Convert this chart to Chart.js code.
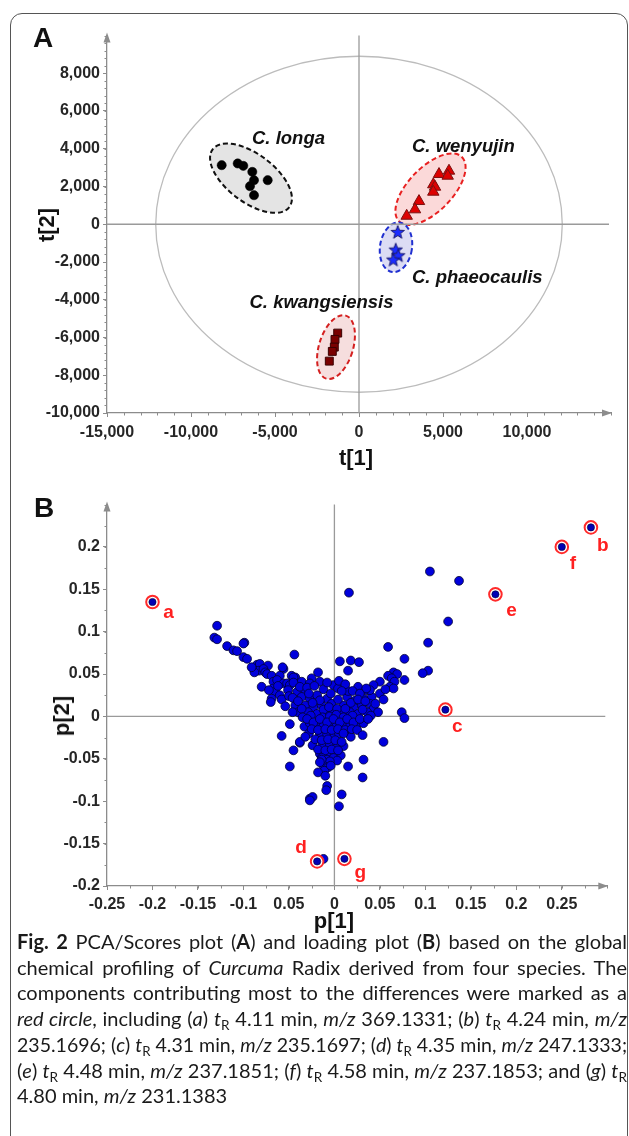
<!DOCTYPE html>
<html><head><meta charset="utf-8">
<script src="https://cdn.jsdelivr.net/npm/chart.js@4.4.1/dist/chart.umd.min.js"></script>
<style>
html,body{margin:0;padding:0;background:#fff;width:629px;height:1136px;overflow:hidden;position:relative;}
#frame{position:absolute;left:10px;top:13px;width:618px;height:1140px;box-sizing:border-box;border:1.6px solid #555;border-radius:12px;}
canvas{position:absolute;left:0;}
#cA{top:0;}
#cB{top:480px;}
.lbl{position:absolute;font-family:'Liberation Sans',Arial,sans-serif;font-weight:bold;color:#111;white-space:nowrap;}
.panel{font-size:28px;line-height:28px;}
.atitle{font-size:22px;line-height:22px;}
#cap{position:absolute;left:17px;top:929px;width:610px;font-family:Lato,'Noto Sans',sans-serif;font-size:20px;line-height:25.7px;color:#1a1a1a;}
.ln{display:block;width:max-content;white-space:nowrap;transform-origin:left center;}
sub{font-size:0.68em;vertical-align:-0.3em;line-height:0;font-style:normal;}
</style></head>
<body>
<div id="frame"></div>
<canvas id="cA" width="629" height="473"></canvas>
<canvas id="cB" width="629" height="446"></canvas>
<div class="lbl panel" style="left:33px;top:24px;">A</div>
<div class="lbl panel" style="left:34px;top:494px;">B</div>
<div class="lbl atitle" style="left:356px;top:458px;transform:translate(-50%,-50%);">t[1]</div>
<div class="lbl atitle" style="left:47px;top:225px;transform:translate(-50%,-50%) rotate(-90deg);">t[2]</div>
<div class="lbl atitle" style="left:334px;top:921px;transform:translate(-50%,-50%);">p[1]</div>
<div class="lbl atitle" style="left:62px;top:716px;transform:translate(-50%,-50%) rotate(-90deg);">p[2]</div>
<div id="cap">
<span class="ln"><b>Fig. 2</b>  PCA/Scores plot (<b>A</b>) and loading plot (<b>B</b>) based on the global</span>
<span class="ln">chemical profiling of <i>Curcuma</i> Radix derived from four species. The</span>
<span class="ln">components contributing most to the differences were marked as a</span>
<span class="ln"><i>red circle</i>, including (<i>a</i>) <i>t</i><sub>R</sub> 4.11 min, <i>m/z</i> 369.1331; (<i>b</i>) <i>t</i><sub>R</sub> 4.24 min, <i>m/z</i></span>
<span class="ln">235.1696; (<i>c</i>) <i>t</i><sub>R</sub> 4.31 min, <i>m/z</i> 235.1697; (<i>d</i>) <i>t</i><sub>R</sub> 4.35 min, <i>m/z</i> 247.1333;</span>
<span class="ln">(<i>e</i>) <i>t</i><sub>R</sub> 4.48 min, <i>m/z</i> 237.1851; (<i>f</i>) <i>t</i><sub>R</sub> 4.58 min, <i>m/z</i> 237.1853; and (<i>g</i>) <i>t</i><sub>R</sub></span>
<span class="ln last">4.80 min, <i>m/z</i> 231.1383</span>
</div>
<script>
// ---------- DATA: Panel A (PCA scores) ----------
const longaX = [-8173, -7220, -6887, -6351, -6250, -6488, -6250, -5435];
const longaY = [3130, 3220, 3093, 2775, 2334, 2016, 1538, 2334];
const wenyujinX = [5357, 4762, 5280, 4423, 4524, 4423, 3571, 3333, 2839];
const wenyujinY = [2828, 2653, 2562, 2106, 1979, 1714, 1220, 780, 440];
const phaeocaulisX = [2304, 2185, 2339, 2042];
const phaeocaulisY = [-408, -1342, -1645, -1873];
const kwangsiensisX = [-1268, -1429, -1470, -1589, -1768];
const kwangsiensisY = [-5767, -6101, -6509, -6737, -7252];
const speciesNames = ['C. longa', 'C. wenyujin', 'C. phaeocaulis', 'C. kwangsiensis'];
const t1TickLabels = ['-15,000', '-10,000', '-5,000', '0', '5,000', '10,000', ''];
const t2TickLabels = ['-10,000', '-8,000', '-6,000', '-4,000', '-2,000', '0', '2,000', '4,000', '6,000', '8,000', ''];

// ---------- DATA: Panel B (PCA loadings) ----------
const loadingsLeftArm = [
 [-0.129,0.107],[-0.132,0.093],[-0.129,0.091],[-0.118,0.083],[-0.111,0.078],[-0.107,0.077],[-0.099,0.087],[-0.100,0.086],
 [-0.100,0.070],[-0.096,0.068],[-0.085,0.061],[-0.082,0.062],[-0.083,0.054],[-0.073,0.060],[-0.078,0.056],[-0.044,0.073],
 [-0.056,0.056],[-0.057,0.058],[-0.076,0.052],[-0.074,0.050],[-0.069,0.048],[-0.060,0.048],[-0.047,0.048],[-0.043,0.046],
 [-0.045,0.046],[-0.018,0.052],[-0.025,0.045],[-0.067,0.041],[-0.063,0.043],[-0.056,0.039],[-0.052,0.039],[-0.049,0.037],
 [-0.036,0.041],[-0.027,0.039],[-0.016,0.041],[-0.080,0.035],[-0.067,0.033],[-0.065,0.029],[-0.051,0.031],[-0.041,0.029],
 [-0.032,0.031],[-0.012,0.032],[-0.001,0.037],[-0.069,0.021],[-0.070,0.017],[-0.060,0.025],[-0.036,0.023],[-0.027,0.021],
 [-0.019,0.025],[-0.008,0.021],[-0.043,0.013],[-0.032,0.013],[-0.023,0.011],[-0.014,0.013],[-0.003,0.015],[-0.040,0.005],
 [-0.029,0.005],[-0.019,0.003],[-0.010,0.005],[-0.001,0.005],[-0.072,0.031],[-0.058,0.020],[-0.054,0.012],[-0.062,0.036],
 [-0.088,0.052],[-0.091,0.058],[-0.050,0.024],[-0.046,0.005]
];
const loadingsRightArm = [
 [0.105,0.171],[0.137,0.160],[0.016,0.146],[0.125,0.112],[0.103,0.087],[0.059,0.082],[0.077,0.068],[0.006,0.065],
 [0.018,0.066],[0.027,0.064],[0.015,0.054],[0.103,0.054],[0.097,0.051],[0.077,0.043],[0.065,0.052],[0.059,0.048],
 [0.069,0.050],[0.063,0.045],[0.066,0.041],[0.061,0.035],[0.065,0.033],[0.050,0.041],[0.043,0.037],[0.036,0.031],
 [0.026,0.035],[0.050,0.027],[0.041,0.023],[0.032,0.021],[0.023,0.019],[0.014,0.023],[0.039,0.015],[0.030,0.013],
 [0.021,0.011],[0.010,0.013],[0.043,0.009],[0.048,0.005],[0.036,0.005],[0.026,0.003],[0.017,0.005],[0.008,0.005],
 [0.074,0.005],[0.077,-0.002],[0.039,0.031],[0.015,0.030],[0.004,0.033],[0.035,0.033],[0.054,0.020],[0.056,0.032]
];
const loadingsCore = [
 [-0.045,0.040],[-0.038,0.035],[-0.030,0.034],[-0.022,0.036],[-0.008,0.040],[0.005,0.042],[0.012,0.038],[0.020,0.030],
 [0.028,0.027],[-0.046,0.022],[-0.040,0.018],[-0.028,0.027],[-0.016,0.019],[-0.004,0.027],[0.004,0.020],[0.008,0.030],
 [0.018,0.016],[0.026,0.020],[0.034,0.018],[0.045,0.015],[-0.036,0.009],[-0.024,0.016],[-0.012,0.008],[-0.006,0.011],
 [0.003,0.009],[0.012,0.009],[0.020,0.001],[0.031,0.008],[0.040,0.001],[-0.035,-0.001],[-0.026,0.001],[-0.013,-0.001],
 [-0.005,0.000],[0.002,0.002],[0.010,-0.001],[0.017,-0.010],[0.024,-0.011],[0.032,-0.008],[-0.033,-0.012],[-0.027,-0.008],
 [-0.019,-0.010],[-0.012,-0.011],[-0.004,-0.010],[0.002,-0.012],[0.008,-0.009],[0.015,-0.019],[-0.028,-0.020],[-0.016,-0.022],
 [-0.008,-0.021],[0.000,-0.022],[0.005,-0.020],[0.018,-0.024],[-0.024,-0.034],[-0.013,-0.033],[-0.005,-0.034],[0.003,-0.034],
 [0.010,-0.035],[-0.016,-0.044],[-0.007,-0.045],[0.001,-0.045],[0.007,-0.046],
 [-0.030,-0.003],[-0.023,-0.007],[-0.016,-0.003],[-0.008,-0.007],[-0.001,-0.003],[0.006,-0.007],[0.014,-0.003],[0.021,-0.007],
 [0.028,-0.003],[0.037,-0.003],[-0.025,-0.015],[-0.018,-0.016],[-0.010,-0.015],[-0.003,-0.016],[0.004,-0.015],[0.012,-0.016],
 [0.019,-0.015],[0.025,-0.016],[0.010,-0.020],[-0.021,-0.027],[-0.014,-0.028],[-0.007,-0.027],[0.001,-0.028],[0.008,-0.030],
 [-0.018,-0.039],[-0.010,-0.040],[-0.003,-0.039],[0.004,-0.040],[-0.014,-0.049],[-0.008,-0.051],[-0.001,-0.049],[0.003,-0.052],
 [-0.005,-0.053],[-0.012,-0.058],[-0.007,-0.060],[-0.014,-0.051],[-0.016,-0.054],[-0.011,-0.064],[-0.004,-0.058]
];
const loadingsLower = [
 [-0.049,-0.009],[-0.058,-0.023],[-0.045,-0.040],[-0.049,-0.059],[-0.038,-0.031],[-0.038,-0.030],[-0.032,-0.024],
 [-0.027,-0.097],[-0.024,-0.095],[-0.027,-0.099],[-0.018,-0.066],[-0.010,-0.070],[0.054,-0.030],[0.031,-0.022],
 [0.032,-0.051],[0.031,-0.072],[0.015,-0.059],[0.008,-0.092],[0.005,-0.106],[-0.008,-0.082],[-0.009,-0.087],[-0.012,-0.168]
];
const markedX = [-0.200, 0.282, 0.122, -0.019, 0.177, 0.250, 0.011];
const markedY = [0.135, 0.223, 0.008, -0.171, 0.144, 0.200, -0.168];
const markedLabels = ['a', 'b', 'c', 'd', 'e', 'f', 'g'];
const p1TickLabels = ['-0.25', '-0.2', '-0.15', '-0.1', '0.05', '0', '0.05', '0.1', '0.15', '0.2', '0.25', ''];
const p2TickLabels = ['-0.2', '-0.15', '-0.1', '-0.05', '0', '0.05', '0.1', '0.15', '0.2', ''];

// ---------- STYLE ----------
const FF = "'Liberation Sans', Arial, sans-serif";
const AXIS = '#8c8c8c';
const markOffsets = [[16,11],[12,18],[12,17],[-16,-14],[16,16],[11,17],[16,14]];

function makeStar() {
  const c = document.createElement('canvas'); c.width = 16; c.height = 16;
  const g = c.getContext('2d'); g.beginPath();
  for (let i = 0; i < 10; i++) {
    const r = i % 2 ? 2.9 : 7; const a = -Math.PI / 2 + i * Math.PI / 5;
    g.lineTo(8 + r * Math.cos(a), 8.6 + r * Math.sin(a));
  }
  g.closePath(); g.fillStyle = '#1a2cff'; g.fill(); g.strokeStyle = '#1a1a70'; g.lineWidth = 1; g.stroke();
  return c;
}

const decor = {
  id: 'decor',
  beforeDatasetsDraw(chart, args, o) {
    const ctx = chart.ctx, xs = chart.scales.x, ys = chart.scales.y, a = chart.chartArea;
    ctx.save();
    ctx.strokeStyle = AXIS; ctx.lineWidth = 1;
    ctx.beginPath();
    for (let v = xs.min; v <= xs.max + 1e-9; v += o.minorX) {
      const px = Math.round(xs.getPixelForValue(v)) + 0.5;
      ctx.moveTo(px, a.bottom); ctx.lineTo(px, a.bottom + 2.5);
    }
    for (let v = ys.min; v <= ys.max + 1e-9; v += o.minorY) {
      const py = Math.round(ys.getPixelForValue(v)) + 0.5;
      ctx.moveTo(a.left, py); ctx.lineTo(a.left - 2.5, py);
    }
    ctx.stroke();
    ctx.fillStyle = AXIS;
    ctx.beginPath(); ctx.moveTo(a.left, a.top - 3); ctx.lineTo(a.left - 3.5, a.top + 7); ctx.lineTo(a.left + 3.5, a.top + 7); ctx.closePath(); ctx.fill();
    ctx.beginPath(); ctx.moveTo(a.right + 1, a.bottom); ctx.lineTo(a.right - 9, a.bottom - 3.5); ctx.lineTo(a.right - 9, a.bottom + 3.5); ctx.closePath(); ctx.fill();
    const x0 = xs.getPixelForValue(0), y0 = ys.getPixelForValue(0);
    if (o.bigEllipse) {
      const rx = xs.getPixelForValue(o.bigEllipse.rx) - x0, ry = y0 - ys.getPixelForValue(o.bigEllipse.ry);
      ctx.beginPath(); ctx.ellipse(x0, y0, rx, ry, 0, 0, Math.PI * 2);
      ctx.strokeStyle = '#bcbcbc'; ctx.lineWidth = 1.3; ctx.stroke();
    }
    (o.groups || []).forEach(e => {
      const cx = xs.getPixelForValue(e.cx), cy = ys.getPixelForValue(e.cy);
      ctx.beginPath(); ctx.ellipse(cx, cy, e.rx, e.ry, e.rot, 0, Math.PI * 2);
      ctx.fillStyle = e.fill; ctx.fill();
      ctx.setLineDash([5, 3]); ctx.strokeStyle = e.stroke; ctx.lineWidth = 2; ctx.stroke(); ctx.setLineDash([]);
    });
    ctx.strokeStyle = '#9a9a9a'; ctx.lineWidth = 1.3;
    ctx.beginPath();
    ctx.moveTo(a.left, y0); ctx.lineTo(a.right - 2, y0);
    ctx.moveTo(x0, a.top); ctx.lineTo(x0, a.bottom);
    ctx.stroke();
    ctx.restore();
  },
  afterDatasetsDraw(chart, args, o) {
    const ctx = chart.ctx, xs = chart.scales.x, ys = chart.scales.y;
    ctx.save();
    (o.texts || []).forEach(t => {
      ctx.font = t.font; ctx.fillStyle = t.color; ctx.textAlign = t.align || 'left'; ctx.textBaseline = t.baseline || 'alphabetic';
      const px = xs.getPixelForValue(t.x) + (t.dx || 0), py = ys.getPixelForValue(t.y) + (t.dy || 0);
      ctx.fillText(t.text, px, py);
    });
    ctx.restore();
  }
};

function scaleOpts(min, max, step, labels, isX, fitSize, pad) {
  const last = labels.length - 1;
  return {
    type: 'linear', min, max,
    afterBuildTicks: s => { s.ticks = labels.map((_, i) => ({ value: +(min + i * step).toFixed(6) })); },
    afterFit: s => { if (isX) s.height = fitSize; else s.width = fitSize; },
    ticks: { callback: (v, i) => labels[i], font: { family: FF, size: 16, weight: 'bold' }, color: '#262626', padding: pad, maxRotation: 0, autoSkip: false },
    grid: { display: true, drawOnChartArea: false, drawTicks: true, tickLength: 4, lineWidth: 1, color: c => (c.index === last ? 'rgba(0,0,0,0)' : AXIS) },
    border: { display: true, color: AXIS, width: 1.3 }
  };
}

const zip = (xs, ys) => xs.map((x, i) => ({ x, y: ys[i] }));
const pairs = arr => arr.map(p => ({ x: p[0], y: p[1] }));

new Chart(document.getElementById('cA'), {
  type: 'scatter',
  data: { datasets: [
    { label: speciesNames[0], data: zip(longaX, longaY), pointStyle: 'circle', pointRadius: 4.6, backgroundColor: '#000', borderColor: '#000', borderWidth: 0.5 },
    { label: speciesNames[1], data: zip(wenyujinX, wenyujinY), pointStyle: 'triangle', pointRadius: 6.6, backgroundColor: '#dd0000', borderColor: '#7a1010', borderWidth: 1 },
    { label: speciesNames[2], data: zip(phaeocaulisX, phaeocaulisY), pointStyle: makeStar(), pointRadius: 7 },
    { label: speciesNames[3], data: zip(kwangsiensisX, kwangsiensisY), pointStyle: 'rect', pointRadius: 5.6, backgroundColor: '#7a0000', borderColor: '#3a0000', borderWidth: 1 }
  ]},
  options: {
    responsive: false, animation: false, devicePixelRatio: 1,
    layout: { padding: { top: 35.5, right: 18, left: 0, bottom: 0 } },
    scales: {
      x: scaleOpts(-15000, 15000, 5000, t1TickLabels, true, 60, 6),
      y: scaleOpts(-10000, 10000, 2000, t2TickLabels, false, 107, 3)
    },
    plugins: {
      legend: { display: false }, tooltip: { enabled: false },
      decor: {
        minorX: 1000, minorY: 400,
        bigEllipse: { rx: 12100, ry: 8900 },
        groups: [
          { cx: -6429, cy: 2440, rx: 48, ry: 24, rot: 0.646, fill: '#e4e4e4', stroke: '#111' },
          { cx: 4256, cy: 1857, rx: 45, ry: 22, rot: -0.80, fill: '#fbd9d9', stroke: '#e82020' },
          { cx: 2202, cy: -1220, rx: 16, ry: 25, rot: 0.15, fill: '#dcdcf4', stroke: '#2030d0' },
          { cx: -1369, cy: -6509, rx: 17, ry: 33, rot: 0.3, fill: '#f6dede', stroke: '#d42020' }
        ],
        texts: [
          { text: speciesNames[0], x: -6369, y: 4244, font: `italic bold 18.5px ${FF}`, color: '#111' },
          { text: speciesNames[1], x: 3155, y: 3820, font: `italic bold 18.5px ${FF}`, color: '#111' },
          { text: speciesNames[2], x: 3155, y: -3130, font: `italic bold 18.5px ${FF}`, color: '#111' },
          { text: speciesNames[3], x: -6518, y: -4430, font: `italic bold 18.5px ${FF}`, color: '#111' }
        ]
      }
    }
  },
  plugins: [decor]
});

const allLoadings = [].concat(loadingsLeftArm, loadingsRightArm, loadingsCore, loadingsLower);
new Chart(document.getElementById('cB'), {
  type: 'scatter',
  data: { datasets: [
    { label: 'loadings', order: 3, data: pairs(allLoadings), pointRadius: 4.4, backgroundColor: '#0000dc', borderColor: '#000030', borderWidth: 0.8 },
    { label: 'marked ring', order: 2, data: zip(markedX, markedY), pointRadius: 6.3, backgroundColor: '#ffffff', borderColor: '#ff2a2a', borderWidth: 2 },
    { label: 'marked', order: 1, data: zip(markedX, markedY), pointRadius: 3.6, backgroundColor: '#0000b4', borderColor: '#000030', borderWidth: 0.6 }
  ]},
  options: {
    responsive: false, animation: false, devicePixelRatio: 1,
    layout: { padding: { top: 24.5, right: 21.7, left: 0, bottom: 0 } },
    scales: {
      x: scaleOpts(-0.25, 0.3, 0.05, p1TickLabels, true, 40, 5),
      y: scaleOpts(-0.2, 0.25, 0.05, p2TickLabels, false, 107, 3)
    },
    plugins: {
      legend: { display: false }, tooltip: { enabled: false },
      decor: {
        minorX: 0.025, minorY: 0.025,
        texts: markedLabels.map((t, i) => ({ text: t, x: markedX[i], y: markedY[i], dx: markOffsets[i][0], dy: markOffsets[i][1], font: `bold 19px ${FF}`, color: '#ff2020', align: 'center', baseline: 'middle' }))
      }
    }
  },
  plugins: [decor]
});

function justify() {
  const target = 610;
  document.querySelectorAll('#cap .ln').forEach(el => {
    if (el.classList.contains('last')) return;
    el.style.wordSpacing = ''; el.style.transform = '';
    const w = el.getBoundingClientRect().width;
    const spaces = (el.textContent.match(/ +/g) || []).length;
    if (w < target && spaces) el.style.wordSpacing = ((target - w) / spaces) + 'px';
    else if (w > target) el.style.transform = 'scaleX(' + (target / w) + ')';
  });
}
justify();
if (document.fonts && document.fonts.ready) document.fonts.ready.then(justify);
</script>
</body></html>
